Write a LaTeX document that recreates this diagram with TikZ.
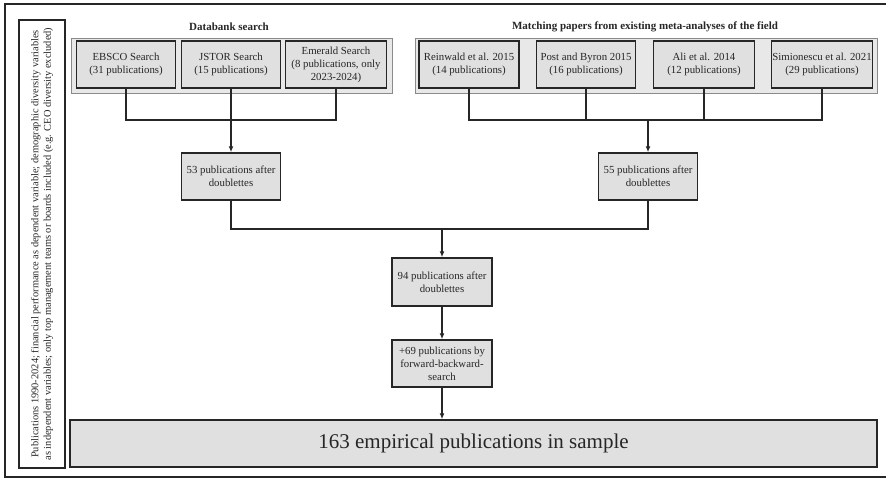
\documentclass[tikz,border=0pt]{standalone}
\usepackage{fontspec}
\setmainfont{Liberation Serif}
\usetikzlibrary{arrows.meta}
\definecolor{boxfill}{HTML}{E0E0E0}
\definecolor{groupfill}{HTML}{E8E8E8}
\definecolor{groupline}{HTML}{8A8A8A}
\definecolor{ink}{HTML}{262626}
\begin{document}
\begin{tikzpicture}[x=1pt,y=-1pt,
  every node/.style={text=ink},
  stepbox/.style={draw=ink, line width=1.5pt, fill=boxfill, align=center, inner sep=1pt,
    minimum height=47pt, font=\fontsize{10.8}{13}\selectfont},
  groupbox/.style={draw=groupline, line width=1pt, fill=groupfill, inner sep=0pt},
  grouptitle/.style={font=\fontsize{11}{13}\selectfont\bfseries},
  conn/.style={draw=ink, line width=2pt},
  arr/.style={conn, -{Latex[length=6pt,width=5pt]}},
]
\useasboundingbox (0,0) rectangle (886,480);
\draw[ink, line width=1.5pt] (5,4) rectangle (892,477);

% side criteria box
\node[draw=ink, line width=1.5pt, fill=white, minimum width=46pt, minimum height=448pt, inner sep=0pt] (side) at (42,244) {};
\node[rotate=90, align=center, font=\fontsize{10.4}{12.5}\selectfont] (sidetxt) at (side.center)
  {Publications 1990-2024; financial performance as dependent variable; demographic diversity variables\\
   as independent variables; only top management teams or boards included (e.g. CEO diversity excluded)};

% groups
\node[groupbox, minimum width=321pt, minimum height=55pt] (g1) at (231.5,65.5) {};
\node[groupbox, minimum width=462pt, minimum height=55pt] (g2) at (646,65.5) {};
\node[grouptitle] (t1) at (229,27) {Databank search};
\node[grouptitle] (t2) at (645,27) {Matching papers from existing meta-analyses of the field};

% source boxes
\node[stepbox, minimum width=99pt] (ebsco) at (126,64.5) {EBSCO Search\\(31 publications)};
\node[stepbox, minimum width=99pt] (jstor) at (231,64.5) {JSTOR Search\\(15 publications)};
\node[stepbox, minimum width=101pt] (emerald) at (336,64.5) {Emerald Search\\(8 publications, only\\2023-2024)};
\node[stepbox, minimum width=100pt] (rein) at (469,64.5) {Reinwald et al. 2015\\(14 publications)};
\node[stepbox, minimum width=99pt] (post) at (586,64.5) {Post and Byron 2015\\(16 publications)};
\node[stepbox, minimum width=101pt] (ali) at (704,64.5) {Ali et al. 2014\\(12 publications)};
\node[stepbox, minimum width=99pt] (sim) at (822,64.5) {Simionescu et al. 2021\\(29 publications)};

% intermediate boxes
\node[stepbox, minimum width=99pt] (n53) at (231,176.5) {53 publications after\\doublettes};
\node[stepbox, minimum width=99pt] (n55) at (648,176.5) {55 publications after\\doublettes};
\node[stepbox, minimum width=100pt, minimum height=48pt] (n94) at (442,282) {94 publications after\\doublettes};
\node[stepbox, minimum width=100pt, minimum height=47pt] (n69) at (442,363.5) {+69 publications by\\forward-backward-\\search};
\node[stepbox, minimum width=807pt, minimum height=47pt, font=\fontsize{21}{24}\selectfont] (final) at (473.5,443.5) {163 empirical publications in sample};

% junction coordinates
\coordinate (j1) at (231,120);
\coordinate (j2) at (648,120);
\coordinate (j3) at (442,229);

% connectors databank
\draw[conn] (ebsco.south) |- (j1) -| (emerald.south);
\draw[arr] (jstor.south) -- (n53.north);
% connectors matching
\draw[conn] (rein.south) |- (j2) -| (sim.south);
\draw[conn] (post.south) -- (post.south |- j2);
\draw[conn] (ali.south) -- (ali.south |- j2);
\draw[arr] (j2) -- (n55.north);
% merge
\draw[conn] (n53.south) |- (j3) -| (n55.south);
\draw[arr] (j3) -- (n94.north);
\draw[arr] (n94.south) -- (n69.north);
\draw[arr] (n69.south) -- (n69.south |- final.north);
\end{tikzpicture}
\end{document}
